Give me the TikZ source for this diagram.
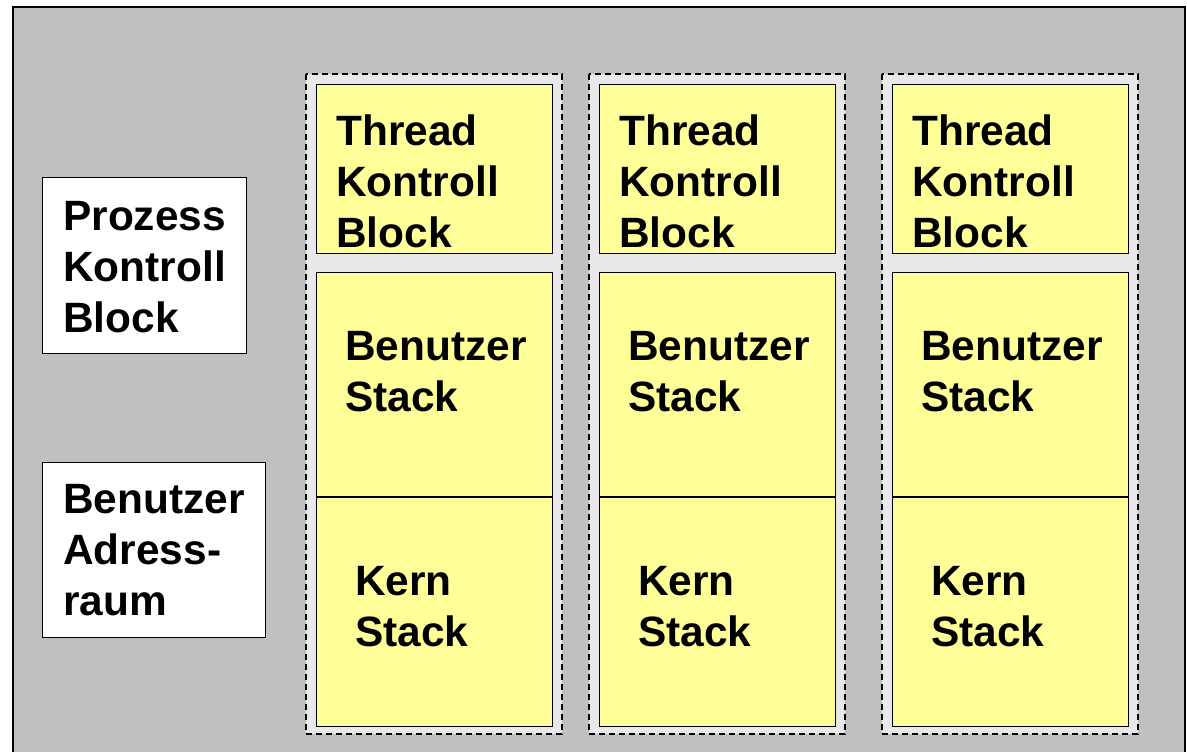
\documentclass[tikz,border=0pt]{standalone}
\usepackage{fontspec}
\setmainfont{Liberation Sans}
\definecolor{panelgray}{HTML}{C0C0C0}
\definecolor{groupgray}{HTML}{E8E8E8}
\definecolor{memyellow}{HTML}{FFFF99}
\begin{document}
\begin{tikzpicture}[x=0.75pt,y=-0.75pt,
  panel/.style={draw=black,line width=1.6pt,fill=panelgray},
  group/.style={draw=black,line width=1.1pt,fill=groupgray,dash pattern=on 4.5pt off 3pt},
  membox/.style={draw=black,line width=1.1pt,fill=memyellow},
  infobox/.style={draw=black,line width=1.1pt,fill=white},
  lbl/.style={anchor=west,align=left,inner sep=0pt,
    font=\fontsize{31.8}{38.25}\selectfont\bfseries}]
\useasboundingbox (0,0) rectangle (1187,751);
% outer frame, open at the bottom edge
\path[panel] (13,7) rectangle (1185,770);

% process-wide blocks
\node[infobox,minimum width=204*0.75pt,minimum height=176*0.75pt,anchor=north west] (pcb) at (42,177) {};
\node[lbl] (pcbt) at (63,267) {Prozess\\Kontroll\\Block};
\node[infobox,minimum width=223*0.75pt,minimum height=175*0.75pt,anchor=north west] (uas) at (42,462) {};
\node[lbl] (uast) at (63,550) {Benutzer\\Adress-\\raum};

% one column per thread
\foreach \i/\x in {1/316,2/599,3/892}{
  \path[group] (\x-10,74) rectangle (\x+246,734);
  \node[membox,minimum width=236*0.75pt,minimum height=169*0.75pt,anchor=north west] (tcb\i) at (\x,84) {};
  \node[membox,minimum width=236*0.75pt,minimum height=454*0.75pt,anchor=north west] (stk\i) at (\x,272) {};
  \draw[line width=1.1pt] (stk\i.west |- 0,497) coordinate (dl\i) -- (stk\i.east |- 0,497) coordinate (dr\i);
  \node[lbl] (tcbt\i) at (\x+20,181) {Thread\\Kontroll\\Block};
  \node[lbl] (ust\i) at (\x+29,372) {Benutzer\\Stack};
  \node[lbl] (kst\i) at (\x+39,607) {Kern\\Stack};
}
\end{tikzpicture}
\end{document}
